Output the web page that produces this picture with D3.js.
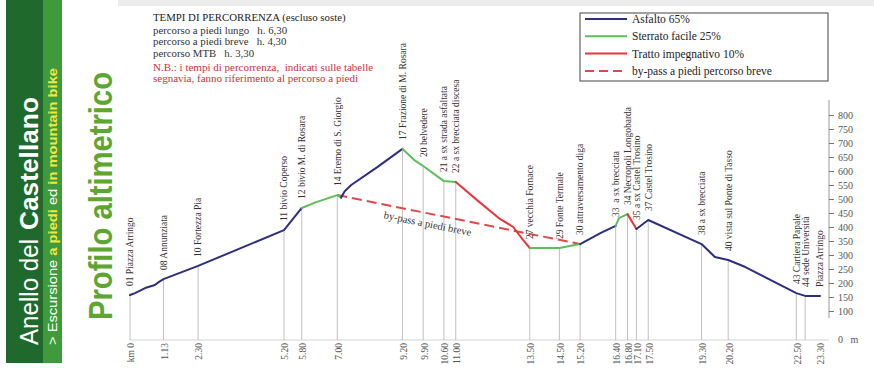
<!DOCTYPE html>
<html><head><meta charset="utf-8">
<script src="https://cdn.jsdelivr.net/npm/d3@7"></script>
<style>
html,body{margin:0;padding:0;background:#fff;}
svg{display:block;}
text{white-space:pre;}
</style></head>
<body>
<svg id="c" width="874" height="381"></svg>
<script>
// ---------- DATA ----------
const profileKm   = [0,0.17,0.51,0.84,0.98,1.13,2.30,5.20,5.80,6.29,7.00,7.13,7.25,7.47,8.35,9.20,9.60,9.90,10.60,11.00,11.72,12.45,12.94,13.27,13.50,14.50,15.20,15.90,16.40,16.51,16.80,17.10,17.50,19.30,19.75,20.20,20.78,22.50,22.80,23.30];
const profileElev = [157,164,182,193,204,214,261,389,468,489,514,505,528,550,614,679,639,618,564,561,496,432,400,354,325,325,339,379,404,432,446,393,425,339,293,282,257,164,154,154];

const segType  = ["asfalto","sterrato","asfalto","sterrato","impegnativo","sterrato","asfalto","sterrato","impegnativo","asfalto"];
const segStart = [0,    5.80, 7.13, 9.20, 11.00, 13.50, 15.20, 16.40, 16.80, 17.10];
const segEnd   = [5.80, 7.13, 9.20, 11.00,13.50, 15.20, 16.40, 16.80, 17.10, 23.30];

const bypassKm   = [7.00, 15.20];
const bypassElev = [514, 339];
const bypassText = "by-pass a piedi breve";

const stopKm   = [0,1.13,2.30,5.20,5.80,7.00,9.20,9.90,10.60,11.00,13.50,14.50,15.20,16.40,16.80,17.10,17.50,19.30,20.20,22.50,22.80,23.30];
const stopName = ["01 Piazza Arringo","08 Annunziata","10 Fortezza Pia","11 bivio Coperso","12 bivio M. di Rosara","14 Eremo di S. Giorgio","17 Frazione di M. Rosara","20 belvedere","21 a sx strada asfaltata","22 a sx brecciata discesa","27 vecchia Fornace","29 Fonte Termale","30 attraversamento diga","33  a sx brecciata","34 Necropoli Longobarda","35 a sx Castel Trosino","37 Castel Trosino","38 a sx brecciata","40 vista sul Ponte di Tasso","43 Cartiera Papale","44 sede Università","Piazza Arringo"];

const kmTickValues = [0,1.13,2.30,5.20,5.80,7.00,9.20,9.90,10.60,11.00,13.50,14.50,15.20,16.40,16.80,17.10,17.50,19.30,20.20,22.50,23.30];
const kmTickLabels = ["km 0","1.13","2.30","5.20","5.80","7.00","9.20","9.90","10.60","11.00","13.50","14.50","15.20","16.40","16.80","17.10","17.50","19.30","20.20","22.50","23.30"];

const elevTicks = [100,150,200,250,300,350,400,450,500,550,600,650,700,750,800];

const legendKeys   = ["asfalto","sterrato","impegnativo","bypass"];
const legendLabels = ["Asfalto 65%","Sterrato facile 25%","Tratto impegnativo 10%","by-pass a piedi percorso breve"];

const timesTitle = "TEMPI DI PERCORRENZA (escluso soste)";
const timesRows  = ["percorso a piedi lungo   h. 6,30","percorso a piedi breve   h. 4,30","percorso MTB   h. 3,30"];
const noteRows   = ["N.B.: i tempi di percorrenza,  indicati sulle tabelle","segnavia, fanno riferimento al percorso a piedi"];

const titleLight = "Anello del";
const titleBold  = "Castellano";
const subtitleParts = ["> Escursione ","a piedi"," ed ","in mountain bike"];
const sideTitle = "Profilo altimetrico";

// ---------- STYLE ----------
const colors = {asfalto:"#2d2e7c", sterrato:"#5cbd5a", impegnativo:"#e8363c", bypass:"#e04848"};
const serif = "'Liberation Serif','DejaVu Serif',serif";
const narrow = "'Liberation Sans Narrow','Liberation Sans','Arial Narrow',sans-serif";

const svg = d3.select("#c");
const x = d3.scaleLinear().domain([0, 23.3]).range([130, 820]);
const y = d3.scaleLinear().domain([0, 800]).range([339, 115]);
const pts = profileKm.map((k,i)=>({km:k, e:profileElev[i]}));
const elevAt = k => { const i = profileKm.indexOf(k); if (i>=0) return profileElev[i];
  const j = d3.bisectLeft(profileKm,k); const t=(k-profileKm[j-1])/(profileKm[j]-profileKm[j-1]);
  return profileElev[j-1]+t*(profileElev[j]-profileElev[j-1]); };

// top light band
svg.append("rect").attr("x",118).attr("y",0).attr("width",756).attr("height",6).attr("fill","#ececec");

// ---------- LEFT PANEL ----------
svg.append("rect").attr("x",6).attr("y",0).attr("width",37).attr("height",363).attr("fill","#1f692c");
svg.append("rect").attr("x",43).attr("y",0).attr("width",19).attr("height",363).attr("fill","#3f9a3c");
svg.append("text").attr("transform","translate(38,345) rotate(-90)")
  .attr("font-family",narrow).attr("font-size",26).attr("font-weight",300).attr("fill","#ffffff")
  .attr("textLength",106).attr("lengthAdjust","spacingAndGlyphs").text(titleLight);
svg.append("text").attr("transform","translate(38,230) rotate(-90)")
  .attr("font-family",narrow).attr("font-size",26).attr("font-weight","bold").attr("fill","#ffffff")
  .attr("textLength",133).attr("lengthAdjust","spacingAndGlyphs").text(titleBold);
const sub = svg.append("text").attr("transform","translate(57,345) rotate(-90)")
  .attr("font-family",narrow).attr("font-size",12)
  .attr("textLength",277).attr("lengthAdjust","spacingAndGlyphs");
subtitleParts.forEach((p,i)=>{
  sub.append("tspan").text(p).attr("fill", i%2 ? "#f2e640" : "#ffffff").attr("font-weight", i%2 ? "bold" : "normal");
});
svg.append("text").attr("transform","translate(112,320) rotate(-90)")
  .attr("font-family",narrow).attr("font-size",34).attr("font-weight","bold").attr("fill","#5ea633")
  .attr("textLength",248).attr("lengthAdjust","spacingAndGlyphs").text(sideTitle);

// ---------- TIMES BLOCK ----------
svg.append("text").attr("x",153).attr("y",21).attr("font-family",serif).attr("font-size",10.8)
  .attr("fill","#222").text(timesTitle);
svg.selectAll(".trow").data(timesRows).join("text").attr("class","trow")
  .attr("x",153).attr("y",(d,i)=>34+i*11.3).attr("font-family",serif).attr("font-size",10.8)
  .attr("fill","#333").text(d=>d);
svg.selectAll(".nrow").data(noteRows).join("text").attr("class","nrow")
  .attr("x",153).attr("y",(d,i)=>71+i*10.5).attr("font-family",serif).attr("font-size",11)
  .attr("fill","#c9343c").text(d=>d);

// ---------- LEGEND ----------
const lg = svg.append("g");
lg.append("rect").attr("x",580).attr("y",13).attr("width",248).attr("height",68)
  .attr("fill","#fff").attr("stroke","#444").attr("stroke-width",1);
legendKeys.forEach((k,i)=>{
  const yy = 19 + i*17.3;
  lg.append("line").attr("x1",585).attr("x2",627).attr("y1",yy).attr("y2",yy)
    .attr("stroke",colors[k]).attr("stroke-width",2)
    .attr("stroke-dasharray", k==="bypass" ? "9,5" : null);
  lg.append("text").attr("x",632).attr("y",yy).attr("dy","0.35em").attr("font-family",serif)
    .attr("font-size",11.5).attr("fill","#222").text(legendLabels[i]);
});

// ---------- BASELINE & VERTICAL LINES ----------
svg.append("line").attr("x1",x(0)).attr("x2",829).attr("y1",y(0)+1).attr("y2",y(0)+1)
  .attr("stroke","#d4d4d4").attr("stroke-width",1);
svg.selectAll(".vl").data(stopKm.slice(0,-1)).join("line").attr("class","vl")
  .attr("x1",d=>x(d)).attr("x2",d=>x(d)).attr("y1",d=>y(elevAt(d))).attr("y2",y(0)+1)
  .attr("stroke","#b0b0b0").attr("stroke-width",0.8);

// ---------- RIGHT AXIS ----------
const ax = d3.axisRight(y).tickValues(elevTicks).tickSize(5).tickFormat(d3.format("d"));
const axg = svg.append("g").attr("transform","translate(829,0)").call(ax);
axg.select(".domain").attr("d","M0,100V318").attr("stroke","#999");
axg.selectAll(".tick line").attr("stroke","#777");
axg.selectAll(".tick text").attr("font-family",serif).attr("font-size",10).attr("fill","#555").attr("x",9);
svg.append("text").attr("x",838).attr("y",y(0)).attr("dy","0.35em").attr("font-family",serif)
  .attr("font-size",10).attr("fill","#555").text("0   m");

// ---------- KM LABELS ----------
svg.selectAll(".kml").data(kmTickValues).join("text").attr("class","kml")
  .attr("transform",d=>`translate(${x(d)+1},343) rotate(-90)`)
  .attr("text-anchor","end").attr("dy","0.35em").attr("font-family",serif).attr("font-size",9.5)
  .attr("fill","#555").text((d,i)=>kmTickLabels[i]);

// ---------- BYPASS ----------
const bp = bypassKm.map((k,i)=>[x(k), y(bypassElev[i])]);
svg.append("path").attr("d",d3.line()(bp)).attr("fill","none").attr("stroke",colors.bypass)
  .attr("stroke-width",2).attr("stroke-dasharray","10,5");
const ang = Math.atan2(bp[1][1]-bp[0][1], bp[1][0]-bp[0][0]);
const t = 0.38, px = bp[0][0]+t*(bp[1][0]-bp[0][0]), py = bp[0][1]+t*(bp[1][1]-bp[0][1]);
svg.append("text").attr("transform",`translate(${px - 10*Math.sin(ang)},${py + 10*Math.cos(ang)}) rotate(${ang*180/Math.PI})`)
  .attr("text-anchor","middle").attr("dy","0.35em").attr("font-family",serif).attr("font-size",10.5)
  .attr("fill","#333").text(bypassText);

// ---------- PROFILE ----------
const line = d3.line().x(d=>x(d.km)).y(d=>y(d.e));
segType.forEach((tp,i)=>{
  const seg = pts.filter(p=>p.km>=segStart[i]-1e-9 && p.km<=segEnd[i]+1e-9);
  svg.append("path").attr("d",line(seg)).attr("fill","none").attr("stroke",colors[tp])
    .attr("stroke-width",2).attr("stroke-linejoin","round").attr("stroke-linecap","round");
});

// ---------- STOP LABELS ----------
svg.selectAll(".sl").data(stopKm).join("text").attr("class","sl")
  .attr("transform",d=>`translate(${x(d)},${y(elevAt(d))-9}) rotate(-90)`)
  .attr("dy","0.35em").attr("font-family",serif).attr("font-size",9.5).attr("fill","#333")
  .text((d,i)=>stopName[i]);
</script>
</body></html>
